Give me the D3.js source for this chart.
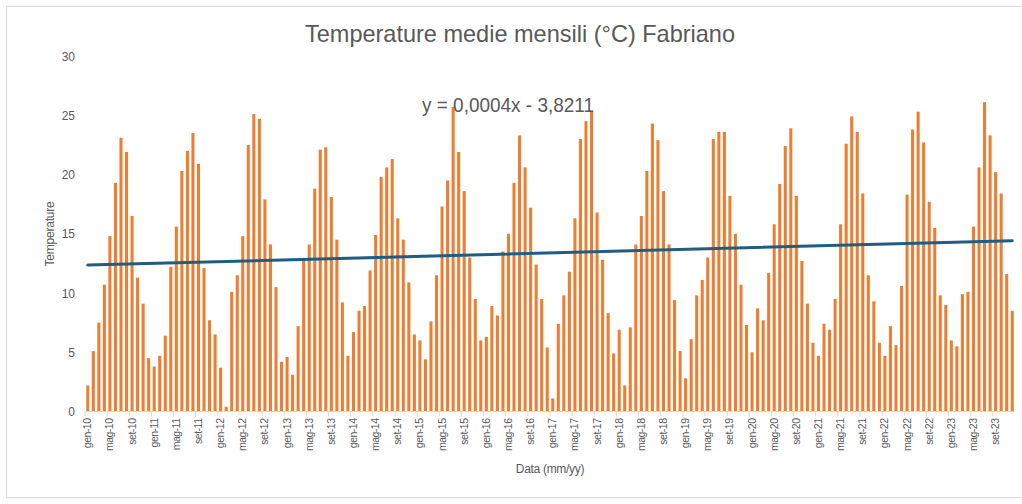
<!DOCTYPE html>
<html>
<head>
<meta charset="utf-8">
<script src="https://cdn.jsdelivr.net/npm/d3@7"></script>
<style>
  html, body { margin: 0; padding: 0; background: #fff; }
  svg { display: block; }
  text { font-family: "Liberation Sans", Arial, sans-serif; }
</style>
</head>
<body>
<svg id="chart" width="1022" height="504"></svg>
<script>
// Monthly mean temperatures (°C), Fabriano, Jan 2010 – Dec 2023
const monthNames = ["gen", "feb", "mar", "apr", "mag", "giu", "lug", "ago", "set", "ott", "nov", "dic"];
const years = [2010, 2011, 2012, 2013, 2014, 2015, 2016, 2017, 2018, 2019, 2020, 2021, 2022, 2023];

const t2010 = [2.2, 5.1, 7.5, 10.7, 14.8, 19.3, 23.1, 21.9, 16.5, 11.3, 9.1, 4.5];
const t2011 = [3.8, 4.7, 6.4, 12.2, 15.6, 20.3, 22.0, 23.5, 20.9, 12.1, 7.7, 6.5];
const t2012 = [3.7, 0.4, 10.1, 11.5, 14.8, 22.5, 25.1, 24.7, 17.9, 14.1, 10.5, 4.2];
const t2013 = [4.6, 3.1, 7.2, 12.8, 14.1, 18.8, 22.1, 22.3, 18.1, 14.5, 9.2, 4.7];
const t2014 = [6.7, 8.5, 8.9, 11.9, 14.9, 19.8, 20.6, 21.3, 16.3, 14.5, 10.9, 6.5];
const t2015 = [6.0, 4.4, 7.6, 11.5, 17.3, 19.5, 25.7, 21.9, 18.6, 13.0, 9.5, 6.0];
const t2016 = [6.3, 8.9, 8.1, 13.5, 15.0, 19.3, 23.3, 20.6, 17.2, 12.4, 9.5, 5.4];
const t2017 = [1.1, 7.4, 9.8, 11.8, 16.3, 23.0, 24.5, 25.3, 16.8, 12.8, 8.3, 4.9];
const t2018 = [6.9, 2.2, 7.1, 14.1, 16.5, 20.3, 24.3, 22.9, 18.6, 14.1, 9.4, 5.1];
const t2019 = [2.8, 6.1, 9.8, 11.1, 13.0, 23.0, 23.6, 23.6, 18.2, 15.0, 10.7, 7.3];
const t2020 = [5.0, 8.7, 7.7, 11.7, 15.8, 19.2, 22.4, 23.9, 18.2, 12.7, 9.1, 5.8];
const t2021 = [4.7, 7.4, 6.9, 9.5, 15.8, 22.6, 24.9, 23.6, 18.4, 11.5, 9.3, 5.8];
const t2022 = [4.7, 7.2, 5.6, 10.6, 18.3, 23.8, 25.3, 22.7, 17.7, 15.5, 9.8, 9.0];
const t2023 = [6.0, 5.5, 9.9, 10.1, 15.6, 20.6, 26.1, 23.3, 20.2, 18.4, 11.6, 8.5];

const yearlyTemps = [t2010, t2011, t2012, t2013, t2014, t2015, t2016,
                     t2017, t2018, t2019, t2020, t2021, t2022, t2023];

const yTicks = [0, 5, 10, 15, 20, 25, 30];
const titleText = "Temperature medie mensili (°C) Fabriano";
const equationText = "y = 0,0004x - 3,8211";
const yAxisTitle = "Temperature";
const xAxisTitle = "Data (mm/yy)";

// One record per month: label "mmm-yy", Excel-style date serial, value
const data = [];
years.forEach((yr, yi) => {
  monthNames.forEach((mn, mi) => {
    const serial = (Date.UTC(yr, mi, 1) - Date.UTC(1899, 11, 30)) / 86400000;
    data.push({
      label: mn + "-" + String(yr).slice(2),
      serial: serial,
      value: yearlyTemps[yi][mi]
    });
  });
});

// Least-squares linear trend against the date serial
const n = data.length;
const mx = d3.mean(data, d => d.serial);
const my = d3.mean(data, d => d.value);
let sxy = 0, sxx = 0;
data.forEach(d => { sxy += (d.serial - mx) * (d.value - my); sxx += (d.serial - mx) ** 2; });
const slope = sxy / sxx;
const intercept = my - slope * mx;

const svg = d3.select("#chart");
const plot = { left: 85, right: 1015, top: 56, bottom: 411.5 };

// Chart area frame
svg.append("rect")
  .attr("x", 6.5).attr("y", 6.5)
  .attr("width", 1040).attr("height", 491)
  .attr("fill", "#fff")
  .attr("stroke", "#d9d9d9").attr("stroke-width", 1);

const x = d3.scaleBand()
  .domain(data.map(d => d.label))
  .range([plot.left, plot.right])
  .paddingInner(0.45)
  .paddingOuter(0.225);

const y = d3.scaleLinear().domain([0, 30]).range([plot.bottom, plot.top]);

// Bars
svg.append("g")
  .selectAll("rect")
  .data(data)
  .join("rect")
  .attr("x", d => x(d.label))
  .attr("y", d => y(d.value))
  .attr("width", x.bandwidth())
  .attr("height", d => y(0) - y(d.value))
  .attr("fill", "#ed7d31");

// Y axis (labels only)
const yAxis = d3.axisLeft(y).tickValues(yTicks).tickSize(0).tickPadding(0);
const gy = svg.append("g")
  .attr("transform", `translate(${plot.left - 10},0)`)
  .call(yAxis);
gy.select(".domain").remove();
gy.selectAll("text")
  .attr("fill", "#595959")
  .style("font-size", "12px")
  .attr("dy", "0.35em");

// X axis: line, ticks every four months, rotated labels
const step = x.step();
const tickLabels = data.filter((d, i) => i % 4 === 0).map(d => d.label);
const gx = svg.append("g").attr("transform", `translate(0,${plot.bottom})`);
gx.append("line")
  .attr("x1", plot.left).attr("x2", plot.right)
  .attr("y1", 0).attr("y2", 0)
  .attr("stroke", "#d9d9d9").attr("stroke-width", 1);
gx.selectAll("line.tick")
  .data(tickLabels)
  .join("line")
  .attr("class", "tick")
  .attr("x1", d => x(d) - step * 0.225).attr("x2", d => x(d) - step * 0.225)
  .attr("y1", 0).attr("y2", 5)
  .attr("stroke", "#d9d9d9");
gx.selectAll("text")
  .data(tickLabels)
  .join("text")
  .attr("transform", d => `translate(${x(d) + x.bandwidth() / 2 + 3.5},7) rotate(-90)`)
  .attr("text-anchor", "end")
  .attr("fill", "#595959")
  .style("font-size", "10.5px")
  .style("letter-spacing", "-0.5px")
  .text(d => d);

// Linear trend line
const first = data[0], last = data[n - 1];
svg.append("line")
  .attr("x1", x(first.label) + x.bandwidth() / 2)
  .attr("x2", x(last.label) + x.bandwidth() / 2)
  .attr("y1", y(slope * first.serial + intercept))
  .attr("y2", y(slope * last.serial + intercept))
  .attr("stroke", "#1f5e80")
  .attr("stroke-width", 3)
  .attr("stroke-linecap", "round");

// Title
svg.append("text")
  .attr("x", 520).attr("y", 42)
  .attr("text-anchor", "middle")
  .attr("fill", "#595959")
  .style("font-size", "24px")
  .attr("textLength", 430)
  .attr("lengthAdjust", "spacingAndGlyphs")
  .text(titleText);

// Trend equation
svg.append("text")
  .attr("x", 422).attr("y", 111.5)
  .attr("fill", "#595959")
  .style("font-size", "20px")
  .attr("textLength", 172)
  .attr("lengthAdjust", "spacingAndGlyphs")
  .text(equationText);

// Axis titles
svg.append("text")
  .attr("transform", "translate(54,234) rotate(-90)")
  .attr("text-anchor", "middle")
  .attr("fill", "#595959")
  .style("font-size", "12px")
  .style("letter-spacing", "-0.2px")
  .text(yAxisTitle);

svg.append("text")
  .attr("x", 550).attr("y", 473)
  .attr("text-anchor", "middle")
  .attr("fill", "#595959")
  .style("font-size", "12px")
  .style("letter-spacing", "-0.3px")
  .text(xAxisTitle);
</script>
</body>
</html>
